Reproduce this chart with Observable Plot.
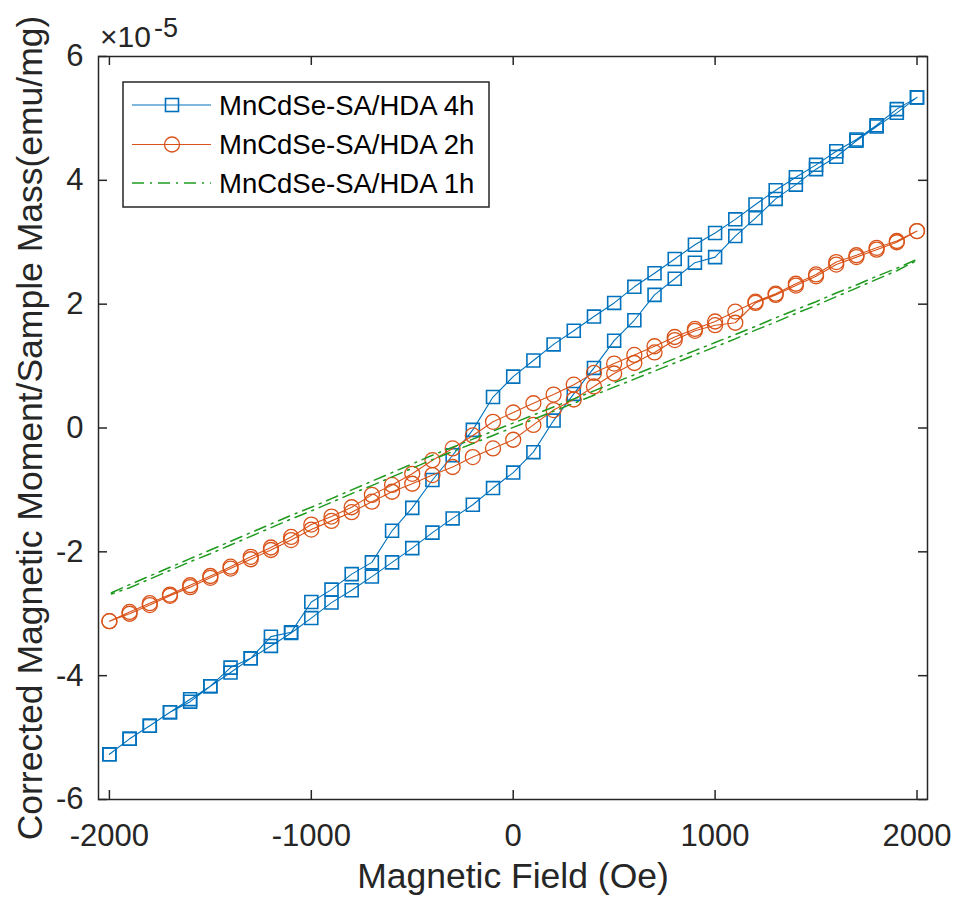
<!DOCTYPE html>
<html><head><meta charset="utf-8">
<script src="https://cdn.jsdelivr.net/npm/d3@7"></script>
<script src="https://cdn.jsdelivr.net/npm/@observablehq/plot@0.6"></script>
<style>body{margin:0;background:#fff}#chart{width:957px;height:903px}</style>
</head><body><div id="chart"></div>
<script>
// Applied field (Oe) for the 4h and 2h loops
const field = [-2000,-1900,-1800,-1700,-1600,-1500,-1400,-1300,-1200,-1100,-1000,-900,-800,-700,-600,-500,-400,-300,-200,-100,0,100,200,300,400,500,600,700,800,900,1000,1100,1200,1300,1400,1500,1600,1700,1800,1900,2000];
// MnCdSe-SA/HDA 4h (x1e-5 emu/mg): descending sweep and ascending sweep, listed in field order
const m4hDown = [-5.27,-5.02,-4.81,-4.59,-4.38,-4.17,-3.87,-3.72,-3.37,-3.30,-2.81,-2.61,-2.36,-2.17,-1.66,-1.29,-0.84,-0.44,-0.03,0.50,0.83,1.09,1.35,1.57,1.80,2.02,2.28,2.50,2.73,2.96,3.15,3.37,3.61,3.84,4.05,4.25,4.47,4.66,4.89,5.15,5.34];
const m4hUp   = [-5.27,-5.02,-4.81,-4.59,-4.42,-4.17,-3.95,-3.72,-3.52,-3.31,-3.07,-2.82,-2.62,-2.40,-2.17,-1.94,-1.69,-1.46,-1.24,-0.97,-0.72,-0.39,0.12,0.55,0.97,1.41,1.74,2.15,2.41,2.67,2.76,3.10,3.39,3.70,3.93,4.18,4.38,4.64,4.87,5.09,5.34];
// MnCdSe-SA/HDA 2h
const m2hDown = [-3.12,-2.97,-2.83,-2.69,-2.54,-2.39,-2.24,-2.08,-1.93,-1.76,-1.56,-1.43,-1.28,-1.08,-0.92,-0.74,-0.52,-0.33,-0.12,0.10,0.25,0.40,0.54,0.70,0.89,1.04,1.18,1.32,1.47,1.60,1.72,1.88,2.04,2.17,2.33,2.48,2.68,2.79,2.91,3.02,3.18];
const m2hUp   = [-3.12,-3.00,-2.86,-2.71,-2.57,-2.42,-2.27,-2.12,-1.97,-1.81,-1.64,-1.50,-1.36,-1.19,-1.03,-0.90,-0.76,-0.63,-0.47,-0.33,-0.19,0.05,0.29,0.46,0.67,0.88,1.05,1.22,1.42,1.57,1.66,1.70,2.02,2.15,2.30,2.45,2.64,2.76,2.88,3.00,3.18];
// MnCdSe-SA/HDA 1h (dense measurement, sampled)
const field1h = [-1990,-1900,-1800,-1700,-1600,-1500,-1400,-1300,-1200,-1100,-1000,-900,-800,-700,-600,-500,-400,-300,-200,-100,0,100,200,300,400,500,600,700,800,900,1000,1100,1200,1300,1400,1500,1600,1700,1800,1900,1990];
const m1hDown = [-2.66,-2.53,-2.39,-2.25,-2.11,-1.97,-1.83,-1.69,-1.55,-1.41,-1.28,-1.14,-1.00,-0.86,-0.72,-0.58,-0.44,-0.31,-0.18,-0.05,0.08,0.21,0.34,0.47,0.60,0.73,0.86,0.99,1.12,1.25,1.38,1.51,1.64,1.78,1.91,2.04,2.18,2.31,2.45,2.58,2.71];
const m1hUp   = [-2.68,-2.58,-2.44,-2.30,-2.16,-2.03,-1.89,-1.75,-1.61,-1.47,-1.34,-1.20,-1.06,-0.93,-0.79,-0.65,-0.51,-0.38,-0.25,-0.12,0.01,0.14,0.27,0.40,0.53,0.66,0.79,0.92,1.05,1.18,1.31,1.44,1.58,1.71,1.85,1.98,2.12,2.26,2.40,2.54,2.69];

const seriesNames = ["MnCdSe-SA/HDA 4h", "MnCdSe-SA/HDA 2h", "MnCdSe-SA/HDA 1h"];
const colors = ["#0072BD", "#D95319", "#1f9a1f"];
const xTicks = [-2000, -1000, 0, 1000, 2000];
const yTicks = [-6, -4, -2, 0, 2, 4, 6];
const xLabel = "Magnetic Field (Oe)";
const yLabel = "Corrected Magnetic Moment/Sample Mass(emu/mg)";

function loop(xs, down, up) {
  const pts = [];
  for (let i = xs.length - 1; i >= 0; i--) pts.push({x: xs[i], y: down[i]});
  for (let i = 0; i < xs.length; i++) pts.push({x: xs[i], y: up[i]});
  return pts;
}
function branch(xs, ys) { return xs.map((x, i) => ({x, y: ys[i]})); }

const d4 = loop(field, m4hDown, m4hUp);
const d2 = loop(field, m2hDown, m2hUp);
const d1a = branch(field1h, m1hDown);
const d1b = branch(field1h, m1hUp);

const W = 957, H = 903, mL = 98, mR = 30, mT = 56, mB = 104;
const pw = W - mL - mR, ph = H - mT - mB;
const ink = "#262626";
const font = "'Liberation Sans', Arial, Helvetica, sans-serif";

const plot = Plot.plot({
  width: W, height: H,
  marginLeft: mL, marginRight: mR, marginTop: mT, marginBottom: mB,
  style: {fontFamily: font, background: "#fff", color: ink},
  x: {domain: [-2054, 2052]},
  y: {domain: [-6, 6]},
  marks: [
    Plot.line(d4, {x: "x", y: "y", stroke: colors[0], strokeWidth: 1.1}),
    Plot.dot(d4, {x: "x", y: "y", symbol: "square", r: 7.3, stroke: colors[0], strokeWidth: 1.6, fill: "none"}),
    Plot.line(d2, {x: "x", y: "y", stroke: colors[1], strokeWidth: 1.1}),
    Plot.dot(d2, {x: "x", y: "y", symbol: "circle", r: 7.5, stroke: colors[1], strokeWidth: 1.3, fill: "none"}),
    Plot.line(d1a, {x: "x", y: "y", stroke: colors[2], strokeWidth: 1.5, strokeDasharray: "12,6,2,6"}),
    Plot.line(d1b, {x: "x", y: "y", stroke: colors[2], strokeWidth: 1.5, strokeDasharray: "12,6,2,6", strokeDashoffset: 9}),
    Plot.frame({stroke: ink, strokeWidth: 1.5}),
    Plot.tickX(xTicks, {x: d => d, insetTop: ph - 9, stroke: ink, strokeWidth: 1.5}),
    Plot.tickX(xTicks, {x: d => d, insetBottom: ph - 9, stroke: ink, strokeWidth: 1.5}),
    Plot.tickY(yTicks, {y: d => d, insetRight: pw - 9, stroke: ink, strokeWidth: 1.5}),
    Plot.tickY(yTicks, {y: d => d, insetLeft: pw - 9, stroke: ink, strokeWidth: 1.5}),
    Plot.axisX({ticks: xTicks, tickSize: 0, tickPadding: 24, fontSize: 31, tickFormat: d => String(d), label: null, fill: ink}),
    Plot.axisY({ticks: yTicks, tickSize: 0, tickPadding: 15, fontSize: 31, tickFormat: d => String(d), label: null, fill: ink}),
    Plot.text([xLabel], {text: d => d, frameAnchor: "bottom", dy: 88, textAnchor: "middle", fontSize: 35.5, fill: ink}),
    Plot.text([yLabel], {text: d => d, frameAnchor: "left", dx: -68, rotate: -90, textAnchor: "middle", fontSize: 35.5, fill: ink})
  ]
});
document.getElementById("chart").appendChild(plot);

// exponent label and legend overlay
const svg = d3.select(plot);
const ex = svg.append("g").attr("font-family", font).attr("fill", ink).attr("text-anchor", "start");
ex.append("text").attr("x", 100).attr("y", 47).attr("font-size", 30).text("×10");
ex.append("text").attr("x", 154).attr("y", 37).attr("font-size", 27).text("-5");

const lg = svg.append("g").attr("font-family", font).attr("text-anchor", "start");
lg.append("rect").attr("x", 123).attr("y", 82).attr("width", 366).attr("height", 125)
  .attr("fill", "#fff").attr("stroke", ink).attr("stroke-width", 1.5);
const rowY = [105, 144.5, 183];
seriesNames.forEach((name, i) => {
  const y = rowY[i];
  const ln = lg.append("line").attr("x1", 132).attr("x2", 211).attr("y1", y).attr("y2", y)
    .attr("stroke", colors[i]).attr("stroke-width", i === 2 ? 1.5 : 1.1);
  if (i === 2) ln.attr("stroke-dasharray", "12,6,2,6");
  if (i === 0) lg.append("rect").attr("x", 172 - 6.5).attr("y", y - 6.5).attr("width", 13).attr("height", 13)
    .attr("fill", "none").attr("stroke", colors[0]).attr("stroke-width", 1.6);
  if (i === 1) lg.append("circle").attr("cx", 172).attr("cy", y).attr("r", 7.5)
    .attr("fill", "none").attr("stroke", colors[1]).attr("stroke-width", 1.3);
  lg.append("text").attr("x", 219).attr("y", y).attr("dy", "0.35em").attr("font-size", 27.5)
    .attr("fill", "#000").text(name);
});
</script>
</body></html>
